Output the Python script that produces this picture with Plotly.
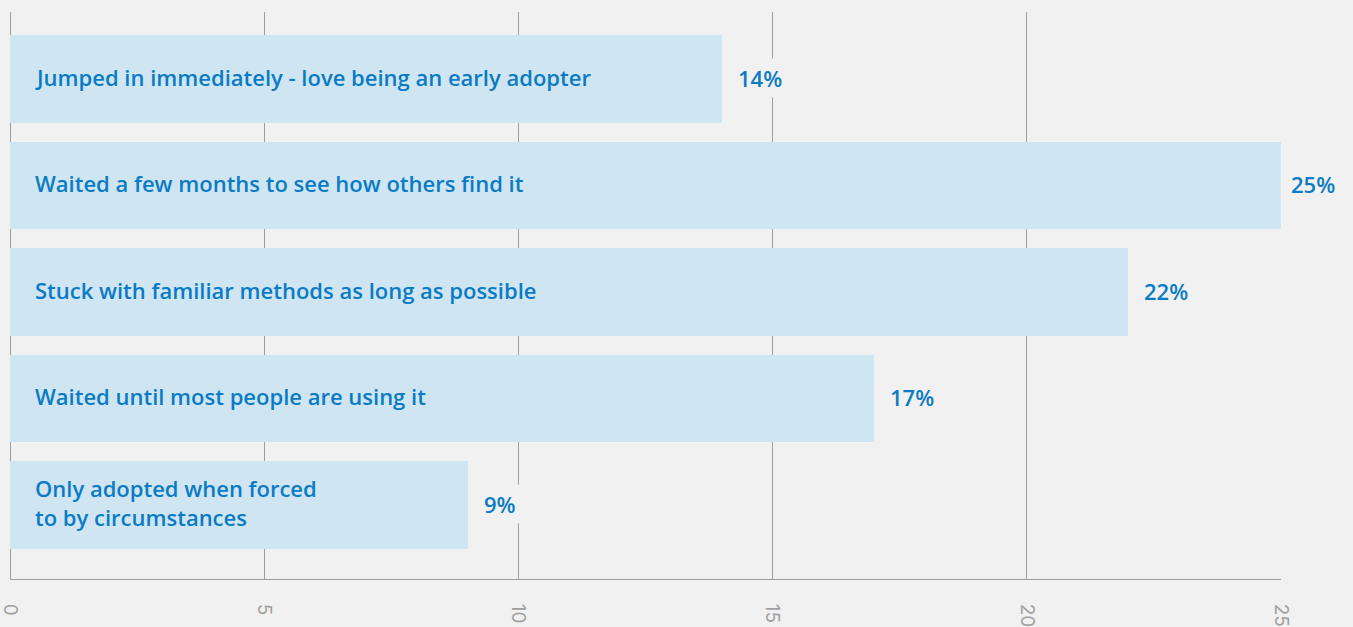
import plotly.graph_objects as go

# Survey responses: how people adopted a new technology
categories = [
    "Jumped in immediately - love being an early adopter",
    "Waited a few months to see how others find it",
    "Stuck with familiar methods as long as possible",
    "Waited until most people are using it",
    "Only adopted when forced<br>to by circumstances",
]
shares = [14, 25, 22, 17, 9]
x_ticks = [0, 5, 10, 15, 20, 25]

BG = "#f1f1f1"
BAR = "#cfe6f2"
INK = "#0a7bc4"
GRID = "#9e9e9e"
FONT = "Open Sans"

positions = list(range(len(categories)))

fig = go.Figure(
    go.Bar(
        x=shares,
        y=positions,
        orientation="h",
        width=0.826,
        marker=dict(color=BAR, line=dict(width=0)),
        hoverinfo="skip",
    )
)

# Category names written inside the bars, left aligned
for pos, name in zip(positions, categories):
    fig.add_annotation(
        x=0, y=pos, xref="x", yref="y",
        text=name, showarrow=False,
        xanchor="left", yanchor="middle", align="left",
        xshift=23, yshift=2,
        font=dict(family=FONT, size=22, color=INK, weight=600),
    )

# Percent labels just past the end of each bar
top = max(shares)
for pos, val in zip(positions, shares):
    fig.add_annotation(
        x=val, y=pos, xref="x", yref="y",
        text=f"{val}%", showarrow=False,
        xanchor="left", yanchor="middle",
        xshift=5 if val == top else 11, yshift=1,
        bgcolor=BG, borderpad=4,
        font=dict(family=FONT, size=22, color=INK, weight=600),
    )

fig.update_layout(
    width=1353, height=627,
    margin=dict(l=10, r=72, t=12, b=48, autoexpand=False),
    paper_bgcolor=BG, plot_bgcolor=BG,
    showlegend=False,
    bargap=0,
)

fig.update_xaxes(
    range=[0, 25],
    tickvals=x_ticks,
    ticktext=[str(t) for t in x_ticks],
    tickangle=90,
    automargin=False,
    ticklabeloverflow="allow",
    showgrid=True, gridcolor=GRID, gridwidth=1,
    zeroline=True, zerolinecolor=GRID, zerolinewidth=1,
    showline=True, linecolor=GRID, linewidth=1,
    ticks="outside", ticklen=20, tickcolor="rgba(0,0,0,0)",
    tickfont=dict(family="Inter", size=19, color="#a0a0a0"),
    fixedrange=True,
)
fig.update_yaxes(
    range=[4.695, -0.629],
    automargin=False,
    showticklabels=False, showgrid=False, zeroline=False,
    showline=False, ticks="",
    fixedrange=True,
)

fig.write_html("out.html", config={"displayModeBar": False})
